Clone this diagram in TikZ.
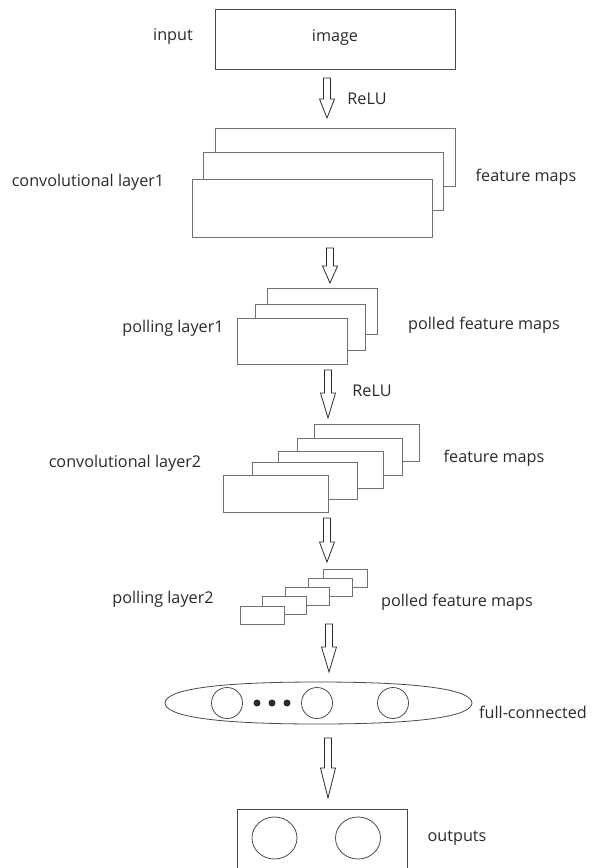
\documentclass[tikz,border=0pt]{standalone}
\usepackage{fontspec}
\setmainfont{Open Sans}
\usetikzlibrary{calc}
\definecolor{ink}{HTML}{2A2A2A}
\definecolor{edge}{HTML}{707070}
\definecolor{edgedark}{HTML}{4A4A4A}
\tikzset{
  lbl/.style={text=ink, inner sep=0pt, anchor=center},
  fmap/.style={draw=edge, fill=white, line width=0.8pt, inner sep=0pt},
  mapA/.style={fmap, minimum width=240pt, minimum height=58pt},
  mapB/.style={fmap, minimum width=110pt, minimum height=46pt},
  mapC/.style={fmap, minimum width=105pt, minimum height=37pt},
  mapD/.style={fmap, minimum width=44pt, minimum height=18pt},
  unit/.style={draw=edgedark, line width=0.8pt, circle, inner sep=0pt, minimum size=31pt},
  outunit/.style={draw=edgedark, line width=0.8pt, ellipse, inner sep=0pt, minimum width=45pt, minimum height=42pt},
  dot/.style={fill=ink, circle, inner sep=0pt, minimum size=7pt},
  hollow/.style={draw=ink, line width=0.8pt, line join=miter,
    to path={let \p1=(\tikztostart), \p2=(\tikztotarget) in
      (\x1-3.5pt,\y1) -- (\x1+3.5pt,\y1) -- (\x1+3.5pt,\y2+#1pt) -- (\x1+7.5pt,\y2+#1pt)
      -- (\x1,\y2) -- (\x1-7.5pt,\y2+#1pt) -- (\x1-3.5pt,\y2+#1pt) -- cycle}}
}
\usetikzlibrary{shapes.geometric}
\begin{document}
\begin{tikzpicture}[x=1pt, y=-1pt, font=\fontsize{16.2}{19}\selectfont]
\useasboundingbox (0,0) rectangle (592,868);
\clip (0,0) rectangle (592,868);

% input image
\node[draw=edgedark, line width=0.8pt, minimum width=240pt, minimum height=60pt, inner sep=0pt] (img) at (335,39) {};
\node[lbl] (t-img) at (335,37) {image};
\node[lbl] (t-input) at (173,36) {input};

% arrow 1
\coordinate (a1s) at (327,78);
\coordinate (a1e) at (327,118);
\draw[hollow=19] (a1s) to (a1e);
\node[lbl] (t-relu1) at (367,99) {ReLU};

% convolutional layer 1
\node[mapA] (c1a) at (335,157) {};
\node[mapA] (c1b) at (323,181) {};
\node[mapA] (c1c) at (312,208) {};
\node[lbl] (t-conv1) at (88,182) {convolutional layer1};
\node[lbl] (t-fm1) at (526,177) {feature maps};

% arrow 2
\coordinate (a2s) at (330,248);
\coordinate (a2e) at (330,283);
\draw[hollow=17] (a2s) to (a2e);

% pooling layer 1
\node[mapB] (p1a) at (322,311) {};
\node[mapB] (p1b) at (310,327) {};
\node[mapB] (p1c) at (292,341) {};
\node[lbl] (t-pool1) at (173,328) {polling layer1};
\node[lbl] (t-pfm1) at (484,325) {polled feature maps};

% arrow 3
\coordinate (a3s) at (328,370);
\coordinate (a3e) at (328,418);
\draw[hollow=25] (a3s) to (a3e);
\node[lbl] (t-relu2) at (372,391) {ReLU};

% convolutional layer 2
\node[mapC] (c2a) at (366.5,442.5) {};
\node[mapC] (c2b) at (349.5,456.5) {};
\node[mapC] (c2c) at (330.5,469.5) {};
\node[mapC] (c2d) at (304.5,480.5) {};
\node[mapC] (c2e) at (275.5,493.5) {};
\node[lbl] (t-conv2) at (125,463) {convolutional layer2};
\node[lbl] (t-fm2) at (494,458) {feature maps};

% arrow 4
\coordinate (a4s) at (327,518);
\coordinate (a4e) at (327,562);
\draw[hollow=20] (a4s) to (a4e);

% pooling layer 2
\node[mapD] (p2a) at (345,578) {};
\node[mapD] (p2b) at (330,587) {};
\node[mapD] (p2c) at (307,596) {};
\node[mapD] (p2d) at (284,605) {};
\node[mapD] (p2e) at (262,615) {};
\node[lbl] (t-pool2) at (163,599) {polling layer2};
\node[lbl] (t-pfm2) at (457,602) {polled feature maps};

% arrow 5
\coordinate (a5s) at (329,624);
\coordinate (a5e) at (329,672);
\draw[hollow=25] (a5s) to (a5e);

% fully connected layer
\coordinate (fc) at (318,703);
\draw[draw=edgedark, line width=0.8pt]
  (165,703) .. controls (165.5,690) and (212,682) .. (318,682)
  .. controls (424,682) and (471.5,690) .. (472,703)
  .. controls (471.5,716) and (424,724) .. (318,724)
  .. controls (212,724) and (165.5,716) .. (165,703) -- cycle;
\node[unit] (u1) at (227,703) {};
\node[unit] (u2) at (317,703) {};
\node[unit] (u3) at (393,703) {};
\node[dot] (d1) at (257,703) {};
\node[dot] (d2) at (272,703) {};
\node[dot] (d3) at (287,703) {};
\node[lbl] (t-fc) at (533,712) {full-connected};

% arrow 6
\coordinate (a6s) at (328,738);
\coordinate (a6e) at (328,798);
\draw[hollow=30] (a6s) to (a6e);

% outputs
\node[draw=edgedark, line width=0.8pt, minimum width=170pt, minimum height=80pt, inner sep=0pt] (out) at (322,849) {};
\node[outunit] (o1) at (274.5,838) {};
\node[outunit] (o2) at (358,838) {};
\node[lbl] (t-out) at (457,838) {outputs};
\end{tikzpicture}
\end{document}
